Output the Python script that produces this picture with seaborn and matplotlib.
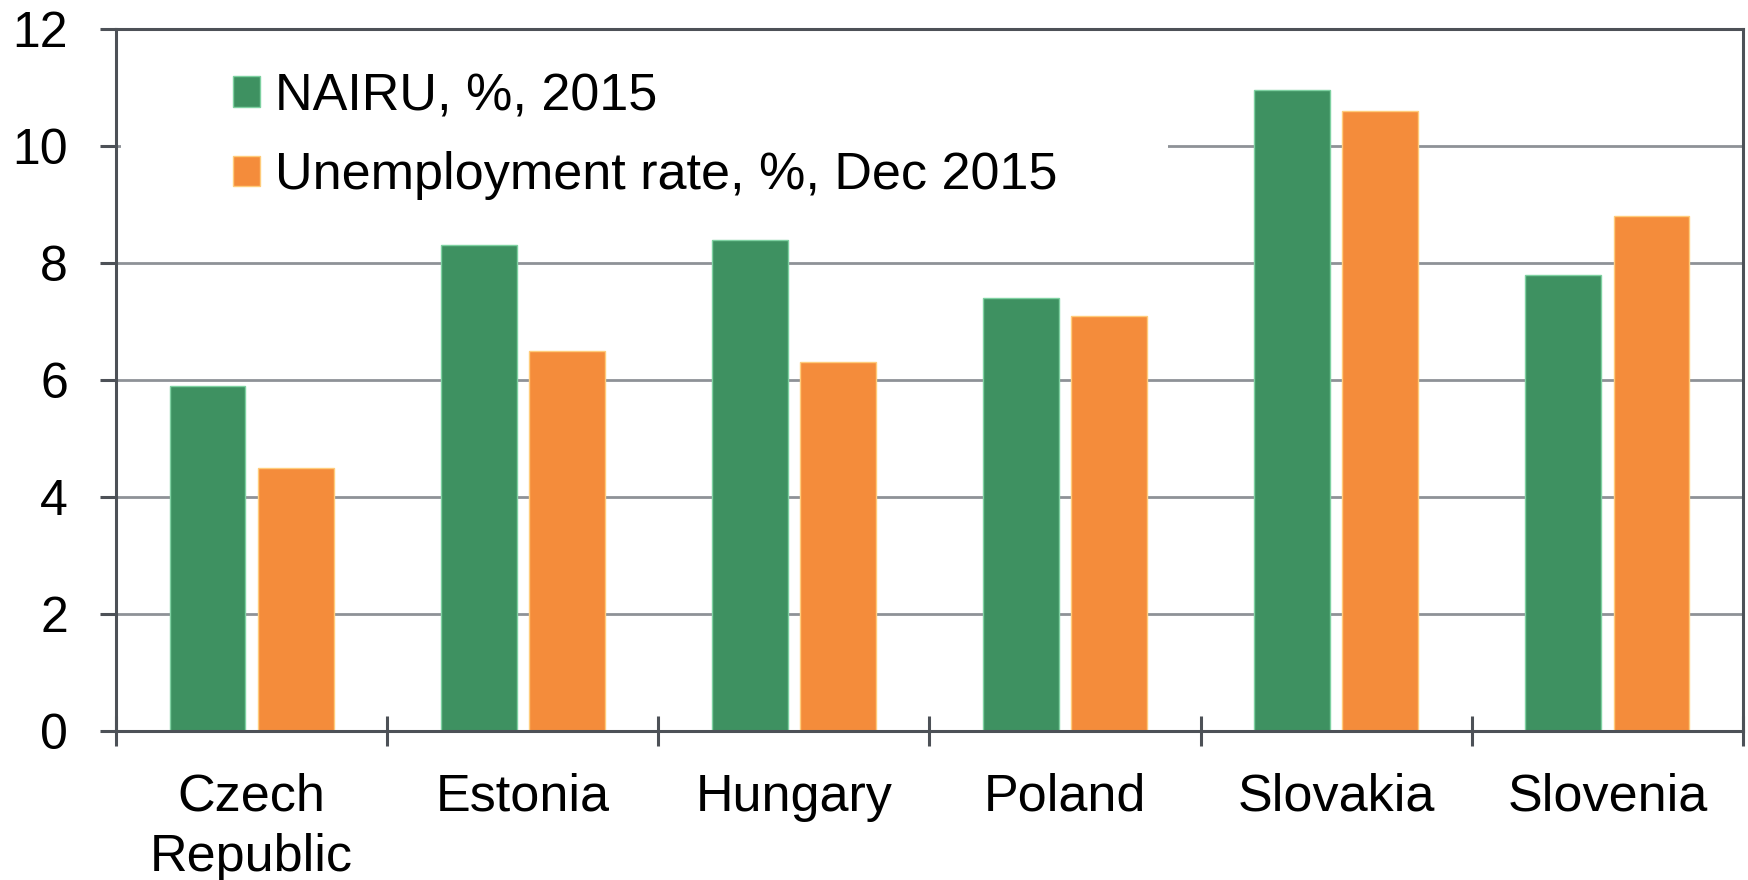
import matplotlib
matplotlib.use("Agg")
import matplotlib.pyplot as plt
from matplotlib.patches import Rectangle
import seaborn as sns
import pandas as pd
import numpy as np

countries = ["Czech\nRepublic", "Estonia", "Hungary", "Poland", "Slovakia", "Slovenia"]
nairu = [5.9, 8.3, 8.4, 7.4, 10.95, 7.8]
unemployment = [4.5, 6.5, 6.3, 7.1, 10.6, 8.8]
series_names = ["NAIRU, %, 2015", "Unemployment rate, %, Dec 2015"]
y_ticks = [0, 2, 4, 6, 8, 10, 12]

df = pd.DataFrame({
    "country": countries * 2,
    "value": nairu + unemployment,
    "series": [series_names[0]] * len(countries) + [series_names[1]] * len(countries),
})

sns.set_theme(style="white")
plt.rcParams["font.family"] = ["Liberation Sans", "DejaVu Sans"]

spine_col = "#4D5157"
grid_col = "#8E9297"
colors = ["#3E9161", "#F48C3B"]

fig = plt.figure(figsize=(17.48, 8.8), dpi=100)
ax = fig.add_axes([116 / 1748, 1 - 731 / 880, (1743 - 116) / 1748, (731 - 29) / 880])

sns.barplot(data=df, x="country", y="value", hue="series", palette=colors,
            width=0.65, gap=0.14, ax=ax, saturation=1, legend=True)
for p in ax.patches:
    fc = p.get_facecolor()
    light = tuple(min(1, c + 0.25) for c in fc[:3])
    p.set_edgecolor(light)
    p.set_linewidth(1.0)

ax.set_xlim(-0.5, len(countries) - 0.5)
ax.set_ylim(0, 12)
ax.set_yticks(y_ticks)
ax.set_xlabel("")
ax.set_ylabel("")

ax.set_axisbelow(True)
ax.yaxis.grid(True, color=grid_col, linewidth=2.0)
ax.xaxis.grid(False)

for s in ax.spines.values():
    s.set_visible(True)
    s.set_color(spine_col)
    s.set_linewidth(2.2)

ax.tick_params(axis="y", which="major", direction="out", length=11.5, width=2.2,
               color=spine_col, pad=23, labelsize=36, labelcolor="black", left=True)
ax.tick_params(axis="x", which="major", length=0, pad=30, labelsize=37.5, labelcolor="black")
ax.set_xticks(np.arange(-0.5, len(countries), 1.0), minor=True)
ax.tick_params(axis="x", which="minor", direction="inout", length=22, width=2.2,
               color=spine_col, bottom=True)
for lbl in ax.get_xticklabels():
    lbl.set_linespacing(1.3)

# white legend box background hiding part of the gridline
ax.add_patch(Rectangle((0.003, 9.2), (1168 - 116) / (1743 - 116) - 0.003, 2.6,
                       transform=ax.get_yaxis_transform(), facecolor="white",
                       edgecolor="none", zorder=0.9))

handles, labels = ax.get_legend_handles_labels()
ax.legend(handles, labels, loc="upper left", bbox_to_anchor=(233 / 1748, 1 - 72 / 880),
          bbox_transform=fig.transFigure, frameon=False, fontsize=37.5,
          labelcolor="black",
          handlelength=0.52, handleheight=0.52, handletextpad=0.29,
          labelspacing=0.58, borderpad=0, borderaxespad=0)

fig.savefig("out.png", dpi=100, facecolor="white")
